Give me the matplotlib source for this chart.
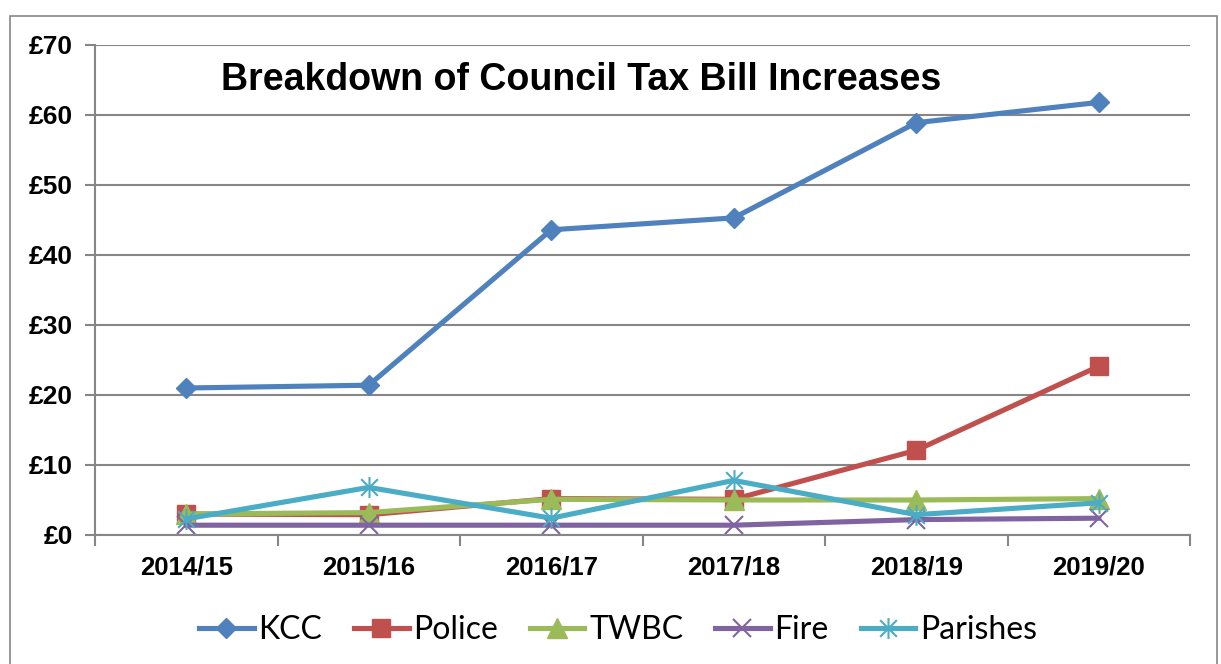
import numpy as np
import matplotlib.pyplot as plt
from matplotlib.patches import Rectangle
from matplotlib.path import Path

years = ["2014/15", "2015/16", "2016/17", "2017/18", "2018/19", "2019/20"]
kcc = [21.0, 21.4, 43.6, 45.3, 58.9, 61.8]
police = [3.0, 2.9, 5.2, 5.1, 12.1, 24.1]
twbc = [3.0, 3.2, 5.1, 5.0, 5.0, 5.2]
fire = [1.4, 1.4, 1.4, 1.4, 2.2, 2.4]
parishes = [2.3, 6.8, 2.4, 7.8, 2.9, 4.6]

# excel style star: x plus a vertical stroke
star = Path([(0, -1), (0, 1), (-0.8, -0.8), (0.8, 0.8), (-0.8, 0.8), (0.8, -0.8)],
            [Path.MOVETO, Path.LINETO, Path.MOVETO, Path.LINETO, Path.MOVETO, Path.LINETO])

fig = plt.figure(figsize=(12.21, 6.64), dpi=100)
ax = fig.add_axes([95/1221, 1-535/664, 1095/1221, 490/664])

# outer chart border
fig.patches.append(Rectangle((10/1221, -0.01), 1207/1221, 1-16/664+0.01,
                             transform=fig.transFigure, fill=False,
                             edgecolor="#868686", lw=1.2))

x = np.arange(len(years))
lw = 3.7
ax.plot(x, kcc, color="#4F81BD", lw=lw, marker="D", ms=10, label="KCC")
ax.plot(x, police, color="#C0504D", lw=lw, marker="s", ms=13, label="Police")
ax.plot(x, twbc, color="#9BBB59", lw=lw, marker="^", ms=14, label="TWBC")
ax.plot(x, fire, color="#8064A2", lw=lw, marker="x", ms=13, mew=1.5, label="Fire")
ax.plot(x, parishes, color="#4BACC6", lw=lw, marker=star, ms=15, mew=1.5,
        fillstyle="none", label="Parishes")

ax.set_xlim(-0.5, len(years) - 0.5)
ax.set_ylim(0, 70)
ax.set_yticks(range(0, 71, 10))
ax.set_yticklabels(["£%d" % v for v in range(0, 71, 10)],
                   fontsize=19, fontweight="bold", family="Liberation Sans")
ax.set_xticks(x)
ax.set_xticklabels(years, fontsize=18.5, fontweight="bold", family="Liberation Sans")
ax.set_xticks(np.arange(-0.5, len(years), 1), minor=True)
ax.tick_params(axis="x", which="major", length=0, pad=15)
ax.tick_params(axis="x", which="minor", length=8, color="#868686", width=1.5)
ax.tick_params(axis="y", length=7, color="#868686", width=1.5, pad=9)
ax.grid(axis="y", color="#868686", lw=1.5)
ax.set_axisbelow(True)
for s in ["top", "right"]:
    ax.spines[s].set_visible(False)
for s in ["left", "bottom"]:
    ax.spines[s].set_color("#868686")
    ax.spines[s].set_linewidth(1.5)

fig.text(581/1221, 1-80/664, "Breakdown of Council Tax Bill Increases",
         ha="center", va="center", fontsize=27, fontweight="bold",
         family="Liberation Sans")

fig.legend(loc="center", bbox_to_anchor=(618/1221, 1-630/664), ncol=5,
           frameon=False, handlelength=1.7, handletextpad=0.15,
           columnspacing=1.0, prop={"family": "Lato", "size": 23})

fig.savefig("out.png", dpi=100)
